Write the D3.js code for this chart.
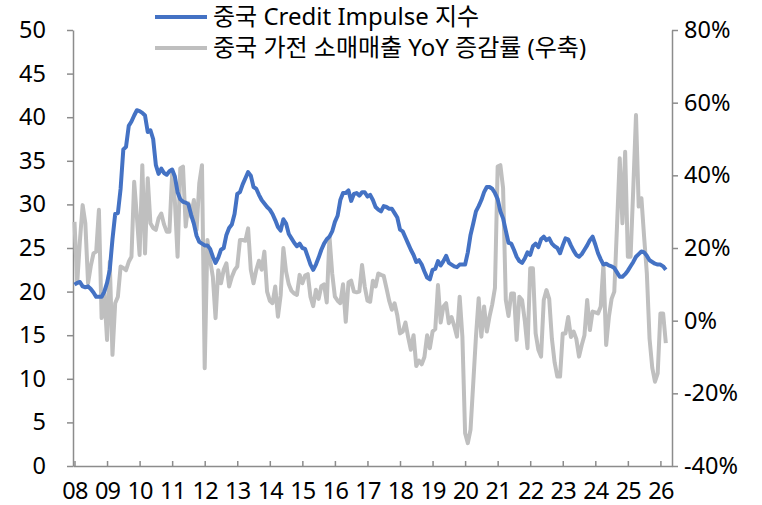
<!DOCTYPE html>
<html>
<head>
<meta charset="utf-8">
<script src="https://cdn.jsdelivr.net/npm/d3@7"></script>
<style>
  body { margin: 0; background: #fff; }
  svg text { font-family: "Noto Sans", "Noto Sans CJK KR", sans-serif; fill: #000; }
</style>
</head>
<body>
<svg width="762" height="505"></svg>
<script>
// 중국 Credit Impulse 지수 (좌축), 월별 2008.01 ~ 2026.03
const credit2008 = [20.8, 21.0, 21.1, 20.6, 20.5, 20.6, 20.3, 19.9, 19.4, 19.4, 19.4, 20.0]
const credit2009 = [21.0, 22.5, 26.0, 28.9, 29.0, 31.8, 36.3, 36.6, 39.0, 39.5, 40.2, 40.8]
const credit2010 = [40.7, 40.5, 40.2, 38.3, 38.5, 37.5, 34.5, 33.5, 34.1, 33.6, 33.4, 33.8]
const credit2011 = [34.0, 33.2, 31.4, 30.6, 30.3, 30.2, 30.0, 28.8, 27.8, 26.4, 25.7, 25.5]
const credit2012 = [25.3, 25.3, 24.9, 24.0, 23.3, 23.9, 24.8, 25.0, 26.5, 27.3, 27.7, 28.9]
const credit2013 = [31.2, 31.4, 32.3, 33.0, 33.7, 33.3, 32.0, 31.8, 31.1, 30.5, 30.1, 29.7]
const credit2014 = [29.4, 28.9, 28.2, 27.4, 27.0, 28.3, 27.8, 26.6, 26.1, 25.6, 25.2, 25.5]
const credit2015 = [25.0, 24.9, 24.0, 23.1, 22.5, 23.1, 23.9, 24.8, 25.5, 26.0, 26.3, 26.9]
const credit2016 = [28.0, 28.7, 30.5, 31.3, 31.3, 31.6, 30.4, 31.2, 31.3, 31.0, 31.4, 31.4]
const credit2017 = [30.9, 31.1, 30.5, 29.7, 29.4, 29.2, 29.8, 29.7, 29.5, 29.5, 29.0, 28.5]
const credit2018 = [27.1, 26.9, 26.2, 25.5, 24.8, 24.2, 23.4, 23.6, 23.1, 22.3, 21.6, 21.4]
const credit2019 = [22.5, 22.6, 23.5, 23.0, 23.5, 24.1, 23.3, 23.1, 22.9, 22.8, 23.1, 23.1]
const credit2020 = [23.1, 24.5, 26.5, 27.8, 29.2, 29.8, 30.5, 31.4, 32.0, 32.0, 31.8, 31.3]
const credit2021 = [30.6, 29.2, 28.4, 27.0, 25.6, 25.5, 24.8, 24.0, 23.5, 23.3, 23.8, 24.5]
const credit2022 = [24.2, 25.2, 25.5, 25.1, 26.0, 26.3, 25.9, 26.1, 25.5, 25.2, 25.0, 24.4]
const credit2023 = [25.3, 26.1, 26.0, 25.3, 24.7, 24.2, 24.0, 24.3, 24.8, 25.3, 25.9, 26.3]
const credit2024 = [25.4, 24.4, 23.7, 23.1, 23.2, 23.0, 22.9, 22.7, 22.2, 21.7, 21.7, 22.0]
const credit2025 = [22.4, 22.9, 23.4, 24.0, 24.3, 24.6, 24.5, 24.1, 23.6, 23.4, 23.2, 23.1]
const credit2026 = [23.1, 22.9, 22.5]

// 중국 가전 소매매출 YoY 증감률 (우축, %)
const appl2008 = [27.2, 10.3, 22.0, 31.8, 26.8, 10.3, 15.0, 18.5, 19.0, 30.5, 0.7, 7.5]
const appl2009 = [-5.3, 16.2, -9.4, 4.8, 6.6, 14.9, 14.5, 13.9, 16.2, 17.6, 38.2, 28.6]
const appl2010 = [18.1, 42.8, 18.5, 39.2, 26.8, 25.5, 25.0, 28.2, 29.5, 26.5, 24.5, 24.5]
const appl2011 = [40.5, 33.0, 17.6, 41.9, 42.4, 25.9, 32.3, 28.6, 33.2, 25.0, 37.8, 42.8]
const appl2012 = [-13.1, 22.2, 16.7, 12.1, 0.7, 13.9, 10.3, 14.0, 15.8, 9.4, 12.0, 13.9]
const appl2013 = [14.9, 22.2, 22.2, 22.0, 25.4, 14.0, 10.3, 13.9, 16.5, 14.0, 19.0, 8.0]
const appl2014 = [5.5, 4.8, 9.4, 1.1, 7.0, 20.0, 13.5, 10.0, 8.2, 7.5, 7.1, 12.6]
const appl2015 = [10.3, 12.4, 12.8, 6.5, 4.0, 8.5, 6.0, 9.5, 10.0, 5.0, 23.1, 13.0]
const appl2016 = [6.6, 5.5, 4.8, 10.0, -0.3, 10.5, 11.0, 8.0, 7.8, 8.0, 15.3, 9.4]
const appl2017 = [5.5, 5.2, 11.0, 9.4, 13.0, 12.6, 12.3, 9.0, 5.5, 3.0, 4.8, 1.5]
const appl2018 = [-3.5, -3.0, -0.5, -4.5, -8.0, -4.0, -12.5, -11.0, -12.0, -10.0, -4.0, -7.6]
const appl2019 = [-3.0, -2.3, 9.8, -0.5, 3.9, 4.8, -0.7, 1.0, -1.5, -4.4, 6.6, -4.4]
const appl2020 = [-31.0, -33.7, -30.0, -17.2, -4.4, 6.2, -4.4, 3.9, -3.0, 1.1, 4.5, 9.0]
const appl2021 = [42.4, 42.8, 36.5, 5.7, 1.3, 7.5, 7.5, -5.3, 6.6, 5.7, 0.0, -7.6]
const appl2022 = [14.4, 14.4, -3.5, -8.0, -9.9, 5.7, 8.4, 6.0, -5.0, -11.5, -15.4, -15.4]
const appl2023 = [-3.5, -3.5, 1.0, -4.5, -3.0, -5.0, -9.9, -6.7, -4.0, 5.7, -2.6, 2.5]
const appl2024 = [2.3, 2.0, 3.9, 15.5, -6.7, 1.0, 6.0, 8.0, 26.0, 44.7, 26.8, 46.5]
const appl2025 = [17.6, 17.6, 36.4, 56.6, 31.4, 33.7, 23.0, 13.0, -5.0, -13.0, -16.8, -14.5]
const appl2026 = [2.0, 2.0, -6.2]

const creditSeries = [credit2008, credit2009, credit2010, credit2011, credit2012, credit2013,
  credit2014, credit2015, credit2016, credit2017, credit2018, credit2019, credit2020,
  credit2021, credit2022, credit2023, credit2024, credit2025, credit2026].flat()
const applSeries = [appl2008, appl2009, appl2010, appl2011, appl2012, appl2013,
  appl2014, appl2015, appl2016, appl2017, appl2018, appl2019, appl2020,
  appl2021, appl2022, appl2023, appl2024, appl2025, appl2026].flat()

const years = d3.range(2008, 2027)
const leftTicks = d3.range(0, 51, 5)
const rightTicks = [-40, -20, 0, 20, 40, 60, 80]
const legendLabels = ['중국 Credit Impulse 지수', '중국 가전 소매매출 YoY 증감률 (우축)']

const blue = '#4472C4'
const grey = '#BFBFBF'
const axisColor = '#8c8c8c'

const plotLeft = 73, plotRight = 672, plotTop = 30, plotBottom = 466
const svg = d3.select('svg')

const xScale = d3.scaleLinear()
                 .domain([2007.954, 2026.356])
                 .range([plotLeft, plotRight])
const yLeft = d3.scaleLinear().domain([0, 50]).range([plotBottom, plotTop])
const yRight = d3.scaleLinear().domain([-40, 80]).range([plotBottom, plotTop])

const monthX = (d, i) => xScale(2008 + i / 12)

// axes
const xAxis = d3.axisBottom(xScale)
                .tickValues(years)
                .tickSizeInner(-5)
                .tickSizeOuter(0)
                .tickPadding(16)
                .tickFormat(d => String(d % 100).padStart(2, '0'))
const leftAxis = d3.axisLeft(yLeft)
                   .tickValues(leftTicks)
                   .tickSizeInner(6)
                   .tickSizeOuter(0)
                   .tickPadding(21)
const rightAxis = d3.axisRight(yRight)
                    .tickValues(rightTicks)
                    .tickSizeInner(6)
                    .tickSizeOuter(0)
                    .tickPadding(6)
                    .tickFormat(d => d + '%')

const styleAxis = g => {
  g.select('.domain').attr('stroke', axisColor).attr('stroke-width', 1.5)
  g.selectAll('.tick line').attr('stroke', axisColor).attr('stroke-width', 1.5)
  g.selectAll('.tick text').attr('font-size', 23.5).attr('fill', '#000')
  g.attr('font-family', null)
}

svg.append('g')
   .attr('transform', `translate(0, ${plotBottom})`)
   .call(xAxis)
   .call(styleAxis)
   .selectAll('.tick text')
   .attr('letter-spacing', -0.8)

svg.append('g')
   .attr('transform', `translate(${plotLeft}, 0)`)
   .call(leftAxis)
   .call(styleAxis)

svg.append('g')
   .attr('transform', `translate(${plotRight}, 0)`)
   .call(rightAxis)
   .call(styleAxis)

// lines
const applLine = d3.line()
                   .x(monthX)
                   .y(d => yRight(d))
const creditLine = d3.line()
                     .x(monthX)
                     .y(d => yLeft(d))

svg.append('path')
   .datum(applSeries)
   .attr('d', applLine)
   .attr('fill', 'none')
   .attr('stroke', grey)
   .attr('stroke-width', 4)
   .attr('stroke-linejoin', 'round')

svg.append('path')
   .datum(creditSeries)
   .attr('d', creditLine)
   .attr('fill', 'none')
   .attr('stroke', blue)
   .attr('stroke-width', 4)
   .attr('stroke-linejoin', 'round')

// legend
const legend = svg.append('g')
                  .selectAll('g')
                  .data(legendLabels)
                  .join('g')
                  .attr('transform', (d, i) => `translate(155, ${17 + i * 31})`)

legend.append('line')
      .attr('x1', 0).attr('x2', 52)
      .attr('stroke', (d, i) => i === 0 ? blue : grey)
      .attr('stroke-width', 4)

legend.append('text')
      .text(d => d)
      .attr('x', 58)
      .attr('dy', '0.35em')
      .attr('font-size', 24)
</script>
</body>
</html>
